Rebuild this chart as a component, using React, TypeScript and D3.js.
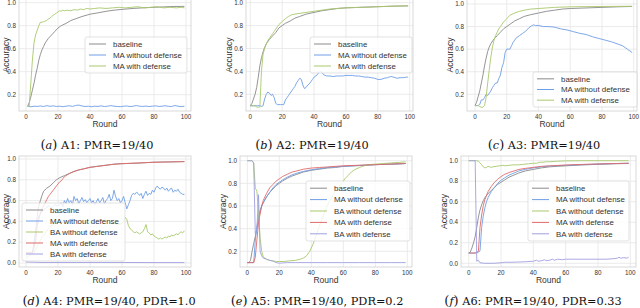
import React from "react";
import * as d3 from "d3";

type Pt = [number, number];

// x ticks / y ticks
const ROUND_TICKS = [0, 20, 40, 60, 80, 100];
const ACC_TICKS_HI = [0.2, 0.4, 0.6, 0.8, 1.0];
const ACC_TICKS_ALL = [0.0, 0.2, 0.4, 0.6, 0.8, 1.0];

// ---- A1 ----
const a1Baseline: Pt[] = [[1,0.1],[2,0.13],[3,0.18],[4,0.24],[5,0.3],[6,0.37],[7,0.43],[8,0.5],[9,0.55],[10,0.59],[11,0.62],[12,0.65],[14,0.69],[16,0.72],[18,0.75],[20,0.78],[22,0.8],[25,0.82],[28,0.845],[31,0.86],[35,0.88],[40,0.9],[45,0.912],[50,0.925],[55,0.935],[60,0.942],[67,0.95],[75,0.957],[85,0.963],[92,0.967],[99,0.968]];
const a1MaNoDef: Pt[] = [[1,0.1],[3,0.095],[5,0.1],[7,0.098],[9,0.102],[11,0.097],[13,0.105],[15,0.099],[17,0.103],[19,0.098],[21,0.1],[23,0.096],[25,0.1],[27,0.104],[29,0.098],[31,0.106],[33,0.11],[35,0.102],[37,0.097],[39,0.1],[41,0.095],[43,0.1],[45,0.098],[47,0.103],[49,0.097],[51,0.1],[53,0.105],[55,0.1],[57,0.098],[59,0.096],[61,0.1],[63,0.102],[65,0.097],[67,0.1],[69,0.106],[71,0.1],[73,0.098],[75,0.101],[77,0.097],[79,0.1],[81,0.103],[83,0.098],[85,0.1],[87,0.104],[89,0.099],[91,0.097],[93,0.106],[95,0.1],[97,0.096],[99,0.1]];
const a1MaDef: Pt[] = [[1,0.1],[2,0.1],[3,0.3],[4,0.5],[5,0.65],[6,0.72],[7,0.76],[8,0.8],[9,0.83],[10,0.83],[11,0.835],[12,0.84],[13,0.845],[14,0.86],[15,0.865],[16,0.88],[17,0.89],[18,0.9],[19,0.91],[20,0.92],[21,0.93],[22,0.925],[23,0.935],[24,0.93],[26,0.935],[28,0.93],[30,0.94],[32,0.935],[34,0.945],[36,0.94],[38,0.95],[40,0.945],[43,0.95],[46,0.955],[50,0.95],[54,0.955],[58,0.96],[62,0.955],[66,0.96],[70,0.965],[74,0.955],[78,0.96],[82,0.965],[86,0.955],[90,0.96],[94,0.955],[97,0.96],[99,0.955]];

// ---- A2 ----
const a2Baseline: Pt[] = [[0,0.1],[1,0.12],[2,0.16],[3,0.2],[4,0.26],[5,0.35],[6,0.45],[7,0.52],[8,0.57],[9,0.61],[10,0.64],[12,0.68],[14,0.71],[16,0.74],[18,0.78],[20,0.8],[22,0.82],[25,0.84],[28,0.865],[31,0.88],[35,0.9],[40,0.915],[45,0.93],[50,0.94],[55,0.95],[60,0.955],[70,0.96],[80,0.965],[90,0.97],[99,0.972]];
const a2MaNoDef: Pt[] = [[0,0.1],[2,0.1],[4,0.1],[6,0.1],[7,0.095],[8,0.1],[9,0.16],[10,0.2],[11,0.22],[12,0.21],[13,0.19],[14,0.2],[15,0.17],[16,0.12],[17,0.11],[18,0.11],[19,0.11],[20,0.11],[21,0.11],[22,0.15],[23,0.17],[24,0.19],[25,0.21],[26,0.23],[27,0.25],[28,0.27],[29,0.3],[30,0.32],[31,0.34],[32,0.33],[33,0.28],[34,0.25],[35,0.26],[36,0.28],[37,0.29],[38,0.31],[39,0.33],[40,0.35],[41,0.36],[42,0.37],[43,0.39],[44,0.4],[45,0.39],[46,0.37],[47,0.365],[48,0.36],[50,0.36],[52,0.355],[54,0.36],[56,0.36],[58,0.36],[60,0.365],[62,0.365],[64,0.365],[66,0.36],[68,0.36],[70,0.355],[72,0.35],[74,0.35],[76,0.345],[78,0.34],[80,0.33],[82,0.33],[84,0.34],[86,0.345],[88,0.355],[90,0.35],[92,0.34],[94,0.345],[96,0.345],[98,0.35],[99,0.35]];
const a2MaDef: Pt[] = [[0,0.1],[1,0.1],[2,0.1],[3,0.1],[4,0.09],[5,0.085],[6,0.09],[7,0.4],[8,0.55],[9,0.6],[10,0.64],[11,0.67],[12,0.69],[13,0.71],[14,0.73],[15,0.75],[16,0.77],[17,0.79],[18,0.81],[20,0.835],[22,0.86],[24,0.88],[26,0.895],[28,0.9],[30,0.905],[35,0.915],[40,0.925],[45,0.935],[50,0.945],[55,0.95],[60,0.955],[70,0.96],[80,0.965],[90,0.97],[99,0.972]];

// ---- A3 ----
const a3Baseline: Pt[] = [[0,0.1],[1,0.13],[2,0.18],[3,0.23],[4,0.3],[5,0.37],[6,0.45],[7,0.52],[8,0.58],[9,0.62],[10,0.65],[12,0.69],[14,0.72],[16,0.75],[18,0.78],[20,0.8],[22,0.82],[25,0.85],[28,0.87],[31,0.89],[35,0.905],[40,0.92],[45,0.935],[50,0.945],[55,0.955],[60,0.96],[70,0.965],[80,0.97],[90,0.975],[99,0.978]];
const a3MaNoDef: Pt[] = [[0,0.1],[1,0.1],[2,0.1],[3,0.11],[4,0.15],[5,0.15],[6,0.17],[7,0.2],[8,0.19],[9,0.21],[10,0.23],[11,0.26],[12,0.28],[13,0.3],[14,0.3],[15,0.34],[16,0.37],[17,0.44],[18,0.48],[19,0.57],[20,0.6],[21,0.6],[22,0.6],[23,0.63],[24,0.66],[25,0.68],[26,0.7],[27,0.71],[28,0.72],[30,0.74],[32,0.76],[34,0.79],[36,0.81],[37,0.815],[38,0.81],[40,0.81],[43,0.8],[46,0.8],[50,0.795],[54,0.78],[58,0.77],[62,0.755],[66,0.74],[70,0.73],[74,0.71],[78,0.695],[82,0.68],[86,0.665],[90,0.645],[93,0.63],[96,0.6],[99,0.57]];
const a3MaDef: Pt[] = [[0,0.1],[1,0.1],[2,0.1],[3,0.09],[4,0.085],[5,0.085],[6,0.1],[7,0.17],[8,0.3],[9,0.42],[10,0.53],[11,0.62],[12,0.68],[13,0.72],[14,0.75],[15,0.78],[16,0.8],[18,0.84],[20,0.87],[22,0.9],[25,0.92],[28,0.935],[31,0.945],[35,0.955],[40,0.96],[45,0.965],[50,0.97],[60,0.975],[70,0.977],[80,0.978],[90,0.979],[99,0.98]];

// ---- A4 ----
const a4Baseline: Pt[] = [[0,0.1],[2,0.1],[4,0.1],[5,0.15],[6,0.3],[7,0.45],[8,0.55],[9,0.6],[10,0.65],[11,0.69],[13,0.72],[15,0.74],[17,0.77],[19,0.8],[21,0.82],[24,0.84],[27,0.86],[30,0.88],[33,0.895],[36,0.905],[40,0.92],[45,0.93],[50,0.94],[55,0.95],[60,0.955],[70,0.96],[80,0.97],[90,0.972],[99,0.975]];
const a4MaNoDef: Pt[] = [[0,0.1],[4,0.1],[6,0.3],[8,0.45],[10,0.5],[12,0.52],[14,0.55],[16,0.53],[18,0.56],[20,0.55],[22,0.58],[23,0.54],[24,0.6],[25,0.57],[26,0.62],[27,0.58],[28,0.6],[29,0.56],[30,0.64],[31,0.6],[32,0.62],[33,0.57],[34,0.6],[35,0.63],[36,0.59],[37,0.61],[38,0.58],[39,0.6],[40,0.62],[41,0.58],[42,0.6],[43,0.56],[44,0.59],[45,0.62],[46,0.58],[47,0.6],[48,0.63],[49,0.57],[50,0.6],[51,0.62],[52,0.66],[53,0.6],[54,0.62],[55,0.7],[56,0.64],[57,0.6],[58,0.62],[59,0.58],[60,0.6],[61,0.64],[62,0.58],[63,0.52],[64,0.56],[65,0.6],[66,0.65],[67,0.67],[68,0.66],[69,0.68],[70,0.67],[71,0.65],[72,0.67],[73,0.62],[74,0.66],[75,0.69],[76,0.65],[77,0.67],[78,0.66],[79,0.7],[80,0.68],[81,0.72],[82,0.74],[83,0.72],[84,0.71],[85,0.73],[86,0.72],[87,0.7],[88,0.72],[89,0.69],[90,0.71],[91,0.72],[92,0.68],[93,0.7],[94,0.69],[95,0.71],[96,0.68],[97,0.67],[98,0.66],[99,0.66]];
const a4BaNoDef: Pt[] = [[0,0.05],[5,0.1],[10,0.25],[15,0.35],[20,0.4],[25,0.38],[30,0.42],[35,0.4],[40,0.38],[45,0.42],[50,0.4],[55,0.38],[58,0.37],[60,0.38],[61,0.4],[62,0.44],[63,0.42],[64,0.36],[65,0.33],[66,0.32],[67,0.3],[68,0.29],[69,0.3],[70,0.29],[71,0.28],[72,0.29],[73,0.3],[74,0.33],[75,0.37],[76,0.3],[77,0.29],[78,0.27],[79,0.28],[80,0.26],[81,0.25],[82,0.24],[83,0.23],[84,0.24],[85,0.23],[86,0.24],[87,0.25],[88,0.24],[89,0.26],[90,0.25],[91,0.27],[92,0.26],[93,0.27],[94,0.28],[95,0.27],[96,0.29],[97,0.3],[98,0.29],[99,0.31]];
const a4MaDef: Pt[] = [[0,0.1],[4,0.1],[6,0.2],[7,0.35],[8,0.42],[9,0.48],[10,0.52],[11,0.55],[12,0.58],[13,0.61],[14,0.64],[15,0.66],[16,0.68],[17,0.7],[18,0.72],[19,0.74],[20,0.76],[21,0.78],[22,0.79],[23,0.81],[24,0.83],[25,0.84],[27,0.86],[30,0.88],[33,0.895],[36,0.905],[40,0.92],[45,0.93],[50,0.94],[55,0.95],[60,0.955],[70,0.962],[80,0.968],[90,0.972],[99,0.975]];
const a4BaDef: Pt[] = [[0,0.01],[10,0.005],[30,0.005],[60,0.005],[80,0.004],[99,0.004]];

// ---- A5 ----
const a5Baseline: Pt[] = [[0,0.1],[1,0.1],[2,0.12],[3,0.2],[4,0.27],[5,0.33],[6,0.4],[7,0.47],[8,0.55],[9,0.6],[10,0.63],[12,0.68],[14,0.72],[16,0.75],[18,0.78],[20,0.8],[22,0.82],[25,0.845],[28,0.865],[31,0.88],[35,0.9],[40,0.915],[45,0.925],[50,0.935],[55,0.94],[60,0.95],[70,0.957],[80,0.965],[90,0.97],[99,0.975]];
const a5MaNoDef: Pt[] = [[0,0.1],[3,0.1],[4,0.1],[5,0.3],[6,0.42],[7,0.5],[8,0.56],[9,0.6],[10,0.63],[12,0.68],[14,0.72],[16,0.76],[18,0.79],[20,0.81],[22,0.83],[25,0.855],[28,0.875],[31,0.89],[35,0.905],[40,0.92],[45,0.93],[50,0.94],[55,0.945],[60,0.95],[70,0.958],[80,0.965],[90,0.97],[99,0.975]];
const a5BaNoDef: Pt[] = [[0,1.0],[1,1.0],[2,1.0],[3,1.0],[4,0.98],[5,0.76],[6,0.73],[7,0.55],[8,0.32],[9,0.2],[10,0.15],[12,0.13],[14,0.12],[16,0.115],[18,0.11],[20,0.11],[23,0.11],[26,0.115],[30,0.12],[33,0.13],[35,0.14],[37,0.16],[39,0.2],[41,0.26],[43,0.34],[45,0.42],[47,0.5],[49,0.57],[51,0.63],[53,0.68],[55,0.73],[57,0.77],[59,0.8],[61,0.84],[63,0.87],[65,0.9],[67,0.92],[70,0.94],[73,0.955],[76,0.965],[80,0.97],[85,0.975],[90,0.98],[95,0.985],[99,0.99]];
const a5MaDef: Pt[] = [[0,0.1],[4,0.1],[5,0.15],[6,0.3],[7,0.45],[8,0.53],[9,0.6],[10,0.65],[12,0.71],[14,0.76],[16,0.79],[18,0.82],[20,0.84],[22,0.86],[25,0.88],[28,0.9],[31,0.91],[35,0.925],[40,0.935],[45,0.94],[50,0.945],[60,0.955],[70,0.96],[80,0.965],[90,0.97],[99,0.975]];
const a5BaDef: Pt[] = [[0,1.0],[1,1.0],[2,1.0],[3,1.0],[4,0.98],[5,0.35],[6,0.4],[7,0.7],[8,0.2],[9,0.16],[10,0.14],[12,0.13],[14,0.12],[16,0.115],[18,0.1],[20,0.095],[25,0.1],[30,0.1],[40,0.1],[50,0.1],[60,0.1],[70,0.1],[80,0.1],[90,0.1],[99,0.1]];

// ---- A6 ----
const a6Baseline: Pt[] = [[0,0.1],[1,0.11],[2,0.15],[3,0.2],[4,0.26],[5,0.35],[6,0.45],[7,0.52],[8,0.57],[9,0.61],[10,0.64],[12,0.68],[14,0.71],[16,0.74],[18,0.77],[20,0.79],[22,0.81],[25,0.84],[28,0.86],[31,0.88],[35,0.9],[40,0.915],[45,0.93],[50,0.94],[55,0.945],[60,0.95],[70,0.958],[80,0.965],[90,0.97],[99,0.973]];
const a6MaNoDef: Pt[] = [[0,0.1],[4,0.1],[5,0.11],[6,0.11],[7,0.12],[8,0.35],[9,0.46],[10,0.54],[11,0.6],[12,0.64],[14,0.7],[16,0.74],[18,0.78],[20,0.81],[22,0.83],[25,0.86],[28,0.88],[31,0.9],[35,0.915],[40,0.93],[45,0.94],[50,0.948],[60,0.955],[70,0.962],[80,0.967],[90,0.972],[99,0.975]];
const a6BaNoDef: Pt[] = [[0,1],[5,1],[6,0.995],[7,0.98],[8,0.96],[9,0.94],[10,0.93],[11,0.935],[12,0.945],[13,0.94],[14,0.935],[15,0.94],[17,0.945],[19,0.95],[21,0.955],[23,0.95],[25,0.955],[28,0.96],[31,0.96],[34,0.965],[37,0.97],[40,0.975],[42,0.975],[44,0.985],[46,0.985],[48,0.99],[50,0.99],[55,0.995],[60,0.998],[70,1.0],[80,1.0],[90,1.0],[99,1.0]];
const a6MaDef: Pt[] = [[0,0.1],[4,0.1],[5,0.1],[6,0.12],[7,0.35],[8,0.47],[9,0.56],[10,0.62],[11,0.66],[12,0.7],[14,0.75],[16,0.79],[18,0.82],[20,0.845],[22,0.865],[25,0.885],[28,0.9],[31,0.915],[35,0.925],[40,0.935],[45,0.945],[50,0.95],[60,0.958],[70,0.964],[80,0.968],[90,0.972],[99,0.975]];
const a6BaDef: Pt[] = [[0,1],[1,1],[2,1],[3,1],[4,1],[5,0.02],[6,0.03],[7,0.005],[10,0.0],[15,0.0],[20,0.005],[22,0.01],[25,0.01],[30,0.012],[35,0.015],[40,0.02],[42,0.03],[43,0.02],[45,0.025],[47,0.035],[48,0.025],[50,0.03],[52,0.04],[53,0.03],[55,0.04],[58,0.035],[60,0.04],[65,0.04],[70,0.04],[75,0.04],[80,0.04],[85,0.04],[90,0.045],[92,0.05],[93,0.06],[94,0.05],[96,0.055],[98,0.05],[99,0.06]];

const COLORS: Record<string, string> = {
  baseline: "#8a8a8a",
  maNoDef: "#6f9fe6",
  maDefGreen: "#a9c96b",
  baNoDef: "#a9c96b",
  maDefRed: "#e06a6a",
  baDef: "#a0a0e0",
};

type Series = { name: string; color: string; data: Pt[] };
type Panel = {
  letter: string;
  caption: string;
  capX: number;
  frame: [number, number, number, number]; // left, top, right, bottom
  x0: number;
  x100: number;
  yLo: [number, number];
  yHi: [number, number];
  yTicks: number[];
  legend: { x: number; y: number; w: number; h: number };
  series: Series[];
};

const PANELS: Panel[] = [
  {
    letter: "a", caption: "A1: PMR=19/40", capX: 97,
    frame: [19, -1, 191, 111], x0: 26, x100: 186, yLo: [0.2, 94.7], yHi: [1.0, 2.7], yTicks: ACC_TICKS_HI,
    legend: { x: 85, y: 37, w: 102, h: 36 },
    series: [
      { name: "baseline", color: COLORS.baseline, data: a1Baseline },
      { name: "MA without defense", color: COLORS.maNoDef, data: a1MaNoDef },
      { name: "MA with defense", color: COLORS.maDefGreen, data: a1MaDef },
    ],
  },
  {
    letter: "b", caption: "A2: PMR=19/40", capX: 312,
    frame: [246, -1, 413, 111], x0: 250.3, x100: 409.7, yLo: [0.2, 94.3], yHi: [1.0, 2.7], yTicks: ACC_TICKS_HI,
    legend: { x: 310, y: 37, w: 102, h: 36 },
    series: [
      { name: "baseline", color: COLORS.baseline, data: a2Baseline },
      { name: "MA without defense", color: COLORS.maNoDef, data: a2MaNoDef },
      { name: "MA with defense", color: COLORS.maDefGreen, data: a2MaDef },
    ],
  },
  {
    letter: "c", caption: "A3: PMR=19/40", capX: 544,
    frame: [467, -1, 637, 111], x0: 475, x100: 633.7, yLo: [0.2, 94.3], yHi: [1.0, 4], yTicks: ACC_TICKS_HI,
    legend: { x: 533, y: 72, w: 104, h: 35 },
    series: [
      { name: "baseline", color: COLORS.baseline, data: a3Baseline },
      { name: "MA without defense", color: COLORS.maNoDef, data: a3MaNoDef },
      { name: "MA with defense", color: COLORS.maDefGreen, data: a3MaDef },
    ],
  },
  {
    letter: "d", caption: "A4: PMR=19/40, PDR=1.0", capX: 109,
    frame: [19, 156, 191, 267], x0: 26, x100: 186, yLo: [0.0, 263], yHi: [1.0, 159], yTicks: ACC_TICKS_ALL,
    legend: { x: 22, y: 203, w: 103, h: 58 },
    series: [
      { name: "baseline", color: COLORS.baseline, data: a4Baseline },
      { name: "MA without defense", color: COLORS.maNoDef, data: a4MaNoDef },
      { name: "BA without defense", color: COLORS.baNoDef, data: a4BaNoDef },
      { name: "MA with defense", color: COLORS.maDefRed, data: a4MaDef },
      { name: "BA with defense", color: COLORS.baDef, data: a4BaDef },
    ],
  },
  {
    letter: "e", caption: "A5: PMR=19/40, PDR=0.2", capX: 317,
    frame: [240, 156, 412, 267], x0: 247.3, x100: 407.3, yLo: [0.2, 251.3], yHi: [1.0, 160.7], yTicks: ACC_TICKS_HI,
    legend: { x: 306, y: 181, w: 104, h: 60 },
    series: [
      { name: "baseline", color: COLORS.baseline, data: a5Baseline },
      { name: "MA without defense", color: COLORS.maNoDef, data: a5MaNoDef },
      { name: "BA without defense", color: COLORS.baNoDef, data: a5BaNoDef },
      { name: "MA with defense", color: COLORS.maDefRed, data: a5MaDef },
      { name: "BA with defense", color: COLORS.baDef, data: a5BaDef },
    ],
  },
  {
    letter: "f", caption: "A6: PMR=19/40, PDR=0.33", capX: 533,
    frame: [461, 156, 636, 267], x0: 468.7, x100: 630.3, yLo: [0.0, 263.3], yHi: [1.0, 160.7], yTicks: ACC_TICKS_ALL,
    legend: { x: 528, y: 181, w: 101, h: 60 },
    series: [
      { name: "baseline", color: COLORS.baseline, data: a6Baseline },
      { name: "MA without defense", color: COLORS.maNoDef, data: a6MaNoDef },
      { name: "BA without defense", color: COLORS.baNoDef, data: a6BaNoDef },
      { name: "MA with defense", color: COLORS.maDefRed, data: a6MaDef },
      { name: "BA with defense", color: COLORS.baDef, data: a6BaDef },
    ],
  },
];

const SANS = "'Liberation Sans', Arial, sans-serif";
const SERIF = "'DejaVu Serif', serif";

const PanelChart = ({ p, idx }: { p: Panel; idx: number }) => {
  const [left, top, right, bottom] = p.frame;
  const x = d3.scaleLinear().domain([0, 100]).range([p.x0, p.x100]);
  const y = d3.scaleLinear().domain([p.yLo[0], p.yHi[0]]).range([p.yLo[1], p.yHi[1]]);
  const line = d3.line<Pt>().x((d) => x(d[0])).y((d) => y(d[1]));
  const clipId = `clip-${idx}`;
  const lg = p.legend;
  const rowH = (lg.h - 3) / p.series.length;
  const cx = (left + right) / 2;
  const cy = (top + bottom) / 2;
  const capY = bottom + 38;
  // keep the rotated label on the page for the leftmost column
  const labelX = Math.max(left - 14, 8.5);

  return (
    <g>
      <defs>
        <clipPath id={clipId}>
          <rect x={left} y={top} width={right - left} height={bottom - top} />
        </clipPath>
      </defs>
      <rect x={left} y={top} width={right - left} height={bottom - top} fill="#fff" />
      {/* grid */}
      {ROUND_TICKS.map((t) => (
        <line key={"gx" + t} x1={x(t)} x2={x(t)} y1={top} y2={bottom} stroke="#e6e6e6" strokeWidth={0.8} />
      ))}
      {p.yTicks.map((t) => (
        <line key={"gy" + t} x1={left} x2={right} y1={y(t)} y2={y(t)} stroke="#e6e6e6" strokeWidth={0.8} />
      ))}
      <g clipPath={`url(#${clipId})`}>
        {p.series.map((s) => (
          <path key={s.name} d={line(s.data) || ""} fill="none" stroke={s.color} strokeWidth={1} strokeOpacity={0.9} />
        ))}
      </g>
      <rect x={left} y={top} width={right - left} height={bottom - top} fill="none" stroke="#cfcfcf" strokeWidth={0.8} />
      {/* tick labels */}
      {ROUND_TICKS.map((t) => (
        <text key={"tx" + t} x={x(t)} y={bottom + 8} fontSize={6.3} fill="#333" textAnchor="middle" fontFamily={SANS}>{t}</text>
      ))}
      {p.yTicks.map((t) => (
        <text key={"ty" + t} x={left - 3} y={y(t) + 2.2} fontSize={6.3} fill="#333" textAnchor="end" fontFamily={SANS}>{t.toFixed(1)}</text>
      ))}
      <text x={cx} y={bottom + 16} fontSize={8.5} fill="#333" textAnchor="middle" fontFamily={SANS}>Round</text>
      <text transform={`translate(${labelX},${cy}) rotate(-90)`} fontSize={8.5} fill="#333" textAnchor="middle" fontFamily={SANS}>Accuracy</text>
      {/* legend */}
      <rect x={lg.x} y={lg.y} width={lg.w} height={lg.h} rx={2} fill="#fff" fillOpacity={0.8} stroke="#d6d6d6" strokeWidth={0.7} />
      {p.series.map((s, i) => {
        const ry = lg.y + 1.5 + rowH * (i + 0.5);
        return (
          <g key={"lg" + s.name}>
            <line x1={lg.x + 4} x2={lg.x + 21} y1={ry} y2={ry} stroke={s.color} strokeWidth={1} />
            <text x={lg.x + 28} y={ry + 2.8} fontSize={7.9} fill="#333" fontFamily={SANS}>{s.name}</text>
          </g>
        );
      })}
      {/* caption */}
      <text x={p.capX} y={capY} fontSize={11.3} fill="#111" textAnchor="middle" fontFamily={SERIF}>
        <tspan fontSize={13}>(</tspan>
        <tspan fontStyle="italic">{p.letter}</tspan>
        <tspan fontSize={13}>)</tspan>
        <tspan>{" " + p.caption}</tspan>
      </text>
    </g>
  );
};

export default function App() {
  return (
    <svg width={640} height={308} style={{ position: "absolute", left: 0, top: 0, background: "#fff" }}>
      <rect width={640} height={308} fill="#fff" />
      {PANELS.map((p, i) => (
        <PanelChart key={p.letter} p={p} idx={i} />
      ))}
    </svg>
  );
}
